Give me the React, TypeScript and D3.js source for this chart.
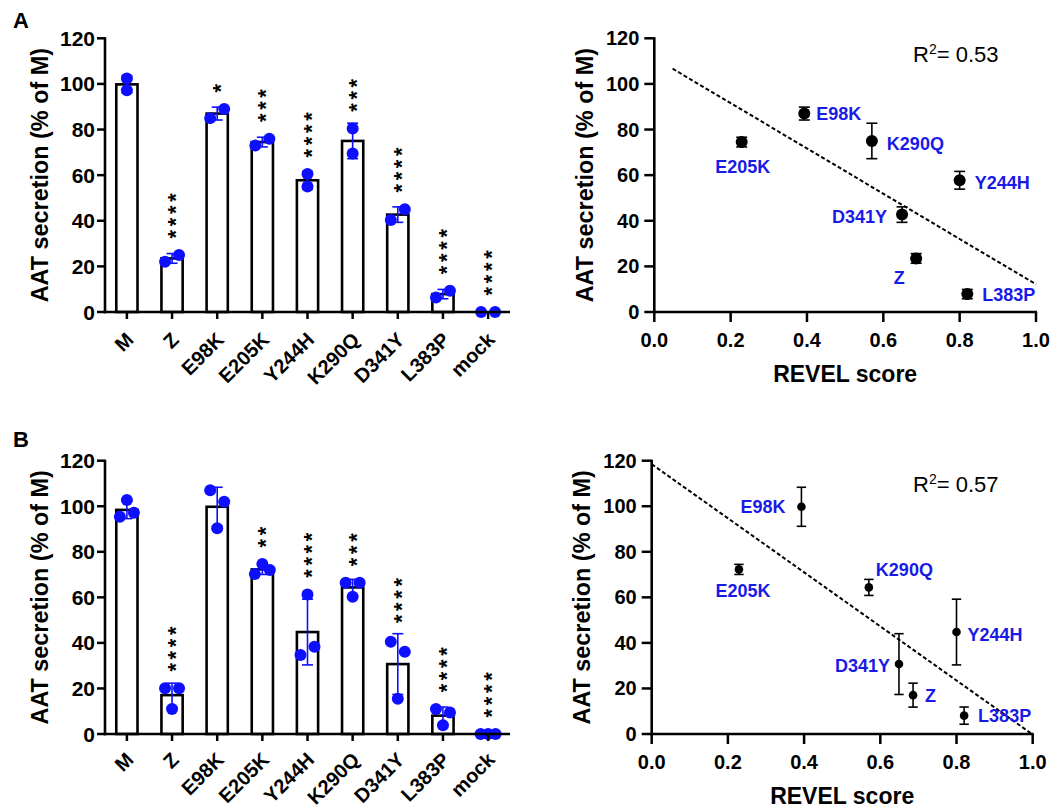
import React from 'react';
import * as d3 from 'd3';

// bar charts: replicate values (% of M), in plotting order
const categories = ['M', 'Z', 'E98K', 'E205K', 'Y244H', 'K290Q', 'D341Y', 'L383P', 'mock'];
const secretionA = [
  [102.4, 97.2], [22, 25], [85, 89], [73, 76], [60.5, 55],
  [80.5, 69.5], [40.3, 45.1], [6.4, 9.3], [0, 0],
];
const secretionB = [
  [102.7, 95.4, 97.1], [20.1, 11, 20.1], [107, 102, 90.3], [70.2, 74.6, 72], [34.7, 61.3, 38.3],
  [66.4, 60.3, 66.4], [40.5, 36.1, 15.5], [11, 3.8, 9.4], [0, 0, 0],
];
const starsA = ['', '****', '*', '***', '****', '***', '****', '****', '****'];
const starsB = ['', '****', '', '**', '****', '***', '****', '****', '****'];

// scatter: REVEL score per variant
const variants = ['Z', 'E98K', 'E205K', 'Y244H', 'K290Q', 'D341Y', 'L383P'];
const revelScores = [0.686, 0.393, 0.229, 0.8, 0.57, 0.649, 0.82];
const r2Values = ['0.53', '0.57'];

const yTicks = [0, 20, 40, 60, 80, 100, 120];
const xTicks = [0, 0.2, 0.4, 0.6, 0.8, 1.0];

const FONT = '"Liberation Sans", Arial, Helvetica, sans-serif';
const BLUE = '#0f0fff';
const LABEL_BLUE = '#1a1ae6';

// label placement for the scatter points (offset from the point)
const placeA: Record<string, [number, number, string]> = {
  Z: [-17, 19, 'middle'], E98K: [12, 0, 'start'], E205K: [1, 24, 'middle'],
  Y244H: [15, 2, 'start'], K290Q: [15, 3, 'start'], D341Y: [-15, 2, 'end'], L383P: [15, 0, 'start'],
};
const placeB: Record<string, [number, number, string]> = {
  Z: [12, 0, 'start'], E98K: [-16, 0, 'end'], E205K: [4, 21, 'middle'],
  Y244H: [11, 2, 'start'], K290Q: [7, -18, 'start'], D341Y: [-9, 1, 'end'], L383P: [14, 0, 'start'],
};

function swarm(values: number[], y: (v: number) => number) {
  const order = d3.range(values.length).sort((a, b) => values[a] - values[b]);
  const groups: number[][] = [];
  order.forEach((i, k) => {
    if (k > 0 && Math.abs(y(values[i]) - y(values[order[k - 1]])) < 11.4) groups[groups.length - 1].push(i);
    else groups.push([i]);
  });
  const off = values.map(() => 0);
  groups.forEach((g) => {
    g.sort((a, b) => a - b);
    const step = g.length > 1 ? Math.min(14, 15 / (g.length - 1)) : 0;
    g.forEach((i, j) => { off[i] = (j - (g.length - 1) / 2) * step; });
  });
  return off;
}

function BarPanel({ data, stars, top, bottom, letter, letterY, labelDy }: any) {
  const y = d3.scaleLinear().domain([0, 120]).range([bottom, top]);
  const x = d3.scaleBand().domain(categories).range([105, 510]).paddingInner(0.53).paddingOuter(0.25);
  const left = 105;
  const r = 6;
  const sf = 22; // asterisk font size
  return (
    <g fontFamily={FONT}>
      <text x={13} y={letterY} fontSize={22} fontWeight="bold">{letter}</text>
      {categories.map((c, i) => {
        const vals = data[i];
        const m = d3.mean(vals) as number;
        const sd = d3.deviation(vals) || 0;
        const cx = (x(c) as number) + x.bandwidth() / 2;
        const offs = swarm(vals, y);
        const topPx = Math.min(y(m + sd), ...vals.map((v: number) => y(v) - r));
        return (
          <g key={c}>
            <rect x={x(c)} y={y(m)} width={x.bandwidth()} height={y(0) - y(m)}
              fill="white" stroke="black" strokeWidth={2.6} />
            {sd > 0 && (
              <g stroke={BLUE} strokeWidth={1.6}>
                <line x1={cx} x2={cx} y1={y(m - sd)} y2={y(m + sd)} />
                <line x1={cx - 5.5} x2={cx + 5.5} y1={y(m + sd)} y2={y(m + sd)} />
                <line x1={cx - 5.5} x2={cx + 5.5} y1={y(m - sd)} y2={y(m - sd)} />
              </g>
            )}
            {vals.map((v: number, j: number) => (
              <circle key={j} cx={cx + offs[j]} cy={y(v)} r={r} fill={BLUE} />
            ))}
            {stars[i] && (
              <text transform={`translate(${cx + 0.5 * sf},${topPx - 15 + 0.2 * sf}) rotate(-90)`}
                fontSize={sf} fontWeight="bold" letterSpacing={12.2 - 0.389 * sf}>{stars[i]}</text>
            )}
            <line x1={cx} x2={cx} y1={bottom} y2={bottom + 7} stroke="black" strokeWidth={2.5} />
            <text transform={`translate(${cx + 8},${bottom + labelDy}) rotate(-45)`} textAnchor="end"
              fontSize={20} fontWeight="bold">{c}</text>
          </g>
        );
      })}
      <line x1={left} x2={left} y1={top - 1} y2={bottom + 1.2} stroke="black" strokeWidth={2.6} />
      <line x1={left - 1.2} x2={510} y1={bottom} y2={bottom} stroke="black" strokeWidth={2.6} />
      {yTicks.map((t) => (
        <g key={t}>
          <line x1={left - 8} x2={left} y1={y(t)} y2={y(t)} stroke="black" strokeWidth={2.5} />
          <text x={left - 10} y={y(t) + 7.5} textAnchor="end" fontSize={21} fontWeight="bold">{t}</text>
        </g>
      ))}
      <text transform={`translate(48,${(top + bottom) / 2}) rotate(-90)`} textAnchor="middle"
        fontSize={23.4} fontWeight="bold">AAT secretion (% of M)</text>
    </g>
  );
}

function ScatterPanel({ data, top, bottom, left, right, r, capW, lineX, place, r2, r2y, titleY, titleX }: any) {
  const y = d3.scaleLinear().domain([0, 120]).range([bottom, top]);
  const x = d3.scaleLinear().domain([0, 1]).range([left, right]);
  const pts = variants.map((v, i) => {
    const vals = data[categories.indexOf(v)];
    return { name: v, x: revelScores[i], m: d3.mean(vals) as number, sd: d3.deviation(vals) || 0 };
  });
  const mx = d3.mean(pts, (p) => p.x) as number;
  const my = d3.mean(pts, (p) => p.m) as number;
  const slope = d3.sum(pts, (p) => (p.x - mx) * (p.m - my)) / d3.sum(pts, (p) => (p.x - mx) ** 2);
  const icpt = my - slope * mx;
  return (
    <g fontFamily={FONT}>
      <line x1={x(lineX[0])} y1={y(icpt + slope * lineX[0])} x2={x(lineX[1])} y2={y(icpt + slope * lineX[1])}
        stroke="black" strokeWidth={2} strokeDasharray="4 2.4" />
      {pts.map((p) => {
        const [dx, dy, anchor] = place[p.name];
        const px = x(p.x);
        const py = y(p.m);
        return (
          <g key={p.name}>
            <g stroke="black" strokeWidth={1.6}>
              <line x1={px} x2={px} y1={y(p.m - p.sd)} y2={y(p.m + p.sd)} />
              <line x1={px - capW} x2={px + capW} y1={y(p.m + p.sd)} y2={y(p.m + p.sd)} />
              <line x1={px - capW} x2={px + capW} y1={y(p.m - p.sd)} y2={y(p.m - p.sd)} />
            </g>
            <circle cx={px} cy={py} r={r} fill="black" />
            <text x={px + dx} y={py + dy + 6.5} textAnchor={anchor} fontSize={18} fontWeight="bold"
              fill={LABEL_BLUE}>{p.name}</text>
          </g>
        );
      })}
      <line x1={left} x2={left} y1={top - 1} y2={bottom + 1.2} stroke="black" strokeWidth={2.6} />
      <line x1={left - 1.2} x2={right + 1} y1={bottom} y2={bottom} stroke="black" strokeWidth={2.6} />
      {yTicks.map((t) => (
        <g key={t}>
          <line x1={left - 10} x2={left} y1={y(t)} y2={y(t)} stroke="black" strokeWidth={2.5} />
          <text x={left - 15} y={y(t) + 7} textAnchor="end" fontSize={20} fontWeight="bold">{t}</text>
        </g>
      ))}
      {xTicks.map((t) => (
        <g key={t}>
          <line x1={x(t)} x2={x(t)} y1={bottom} y2={bottom + 10} stroke="black" strokeWidth={2.5} />
          <text x={x(t)} y={bottom + 35} textAnchor="middle" fontSize={20} fontWeight="bold">{t.toFixed(1)}</text>
        </g>
      ))}
      <text transform={`translate(${titleX},${(top + bottom) / 2}) rotate(-90)`} textAnchor="middle"
        fontSize={23.4} fontWeight="bold">AAT secretion (% of M)</text>
      <text x={(left + right) / 2} y={titleY} textAnchor="middle" fontSize={23} fontWeight="bold">REVEL score</text>
      <text x={913} y={r2y} fontSize={22}>
        R<tspan fontSize={14} dy={-8}>2</tspan><tspan dy={8}>= {r2}</tspan>
      </text>
    </g>
  );
}

export default function App() {
  return (
    <svg width={1054} height={808} style={{ position: 'absolute', left: 0, top: 0, background: 'white' }}>
      <BarPanel data={secretionA} stars={starsA} top={38.3} bottom={312} letter="A" letterY={28} labelDy={29} />
      <BarPanel data={secretionB} stars={starsB} top={460.7} bottom={734} letter="B" letterY={447} labelDy={27} />
      <ScatterPanel data={secretionA} top={38.3} bottom={312} left={654.3} right={1036} r={6} capW={5.5}
        lineX={[0.048, 1]} place={placeA} r2={r2Values[0]} r2y={62} titleY={382} titleX={593} />
      <ScatterPanel data={secretionB} top={460.7} bottom={734} left={651.7} right={1032.7} r={4.3} capW={4.7}
        lineX={[0, 1]} place={placeB} r2={r2Values[1]} r2y={492} titleY={804} titleX={590} />
    </svg>
  );
}
